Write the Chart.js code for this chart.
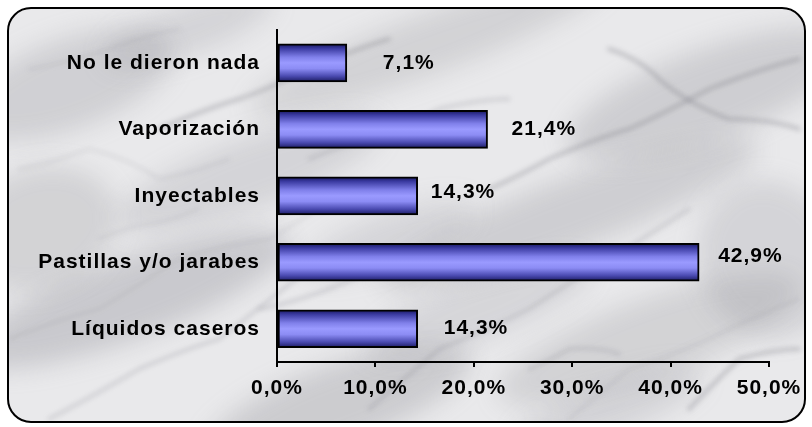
<!DOCTYPE html>
<html>
<head>
<meta charset="utf-8">
<script src="https://cdn.jsdelivr.net/npm/chart.js@4.4.1/dist/chart.umd.min.js"></script>
<style>
  html, body { margin: 0; padding: 0; background: #fff; }
  body { width: 812px; height: 427px; position: relative; overflow: hidden; }
  #marble {
    position: absolute; left: 7px; top: 7px; width: 795px; height: 412px;
    border: 2px solid #000; border-radius: 24px; overflow: hidden;
    background: #e9e9eb;
  }
  #marble canvas { position: absolute; left: 0; top: 0; }
  #chart { position: absolute; left: 0; top: 0; }
</style>
</head>
<body>
<div id="marble"><canvas id="stone" width="795" height="412"></canvas></div>
<canvas id="chart" width="812" height="427"></canvas>
<script>
const categories = ['No le dieron nada', 'Vaporización', 'Inyectables', 'Pastillas y/o jarabes', 'Líquidos caseros'];
const percentages = [7.1, 21.4, 14.3, 42.9, 14.3];
const axisMax = 50;
const axisStep = 10;

const FONT = { family: '"Liberation Sans", Arial, sans-serif', size: 21, weight: 'bold' };
const SPACING = '1px';
const BAR_THICK = 38;

// little hand-placed offsets for the value labels (dx from bar end, dy from bar centre)
const labelNudge = [[36, 0], [24, 0], [13, -4], [19, -6], [26, -1]];

const pct = v => v.toFixed(1).replace('.', ',') + '%';

// grey marble backdrop: soft clouds plus thin diagonal veins
(function paintStone() {
  const c = document.getElementById('stone').getContext('2d');
  const clouds = [
    [120, 290, 170, 40, 0.30], [560, 205, 200, 35, 0.26], [700, 85, 150, 45, 0.26],
    [330, 395, 140, 40, 0.28], [420, 35, 190, 30, 0.22], [60, 75, 110, 45, 0.24],
    [240, 165, 140, 35, 0.20], [640, 330, 160, 40, 0.22], [30, 220, 80, 60, 0.22],
    [760, 250, 70, 80, 0.20], [470, 300, 120, 30, 0.18], [180, 20, 90, 25, 0.2],
    [380, 230, 90, 25, 0.18], [600, 400, 100, 25, 0.2]
  ];
  c.filter = 'blur(12px)';
  clouds.forEach(([x, y, rx, ry, a]) => {
    c.fillStyle = `rgba(130,130,138,${a})`;
    c.beginPath();
    c.ellipse(x, y, rx, ry, -0.35, 0, Math.PI * 2);
    c.fill();
  });
  const veins = [
    [[0, 330], [90, 300], [170, 250], [260, 230], [340, 180]],
    [[40, 410], [130, 360], [210, 330], [300, 260]],
    [[150, 120], [230, 90], [300, 60], [380, 30]],
    [[10, 160], [80, 140], [150, 170], [220, 150]],
    [[360, 400], [430, 340], [520, 300], [600, 250], [680, 200]],
    [[480, 180], [540, 150], [620, 120], [700, 80], [790, 50]],
    [[560, 410], [620, 360], [700, 330], [790, 290]],
    [[250, 300], [320, 280], [400, 250], [470, 240]],
    [[600, 40], [650, 70], [720, 110], [790, 120]],
    [[20, 60], [100, 40], [170, 20]],
    [[300, 150], [360, 130], [430, 100], [500, 90]],
    [[680, 400], [730, 350], [790, 340]],
    [[90, 230], [140, 215], [190, 200]],
    [[520, 360], [560, 340], [610, 345]]
  ];
  c.filter = 'blur(2.5px)';
  c.lineCap = 'round';
  veins.forEach((pts, k) => {
    c.strokeStyle = `rgba(105,105,115,${0.18 + (k % 3) * 0.06})`;
    c.lineWidth = 2 + (k % 3);
    c.beginPath();
    c.moveTo(pts[0][0], pts[0][1]);
    for (let i = 1; i < pts.length; i++) {
      const mx = (pts[i - 1][0] + pts[i][0]) / 2 + ((i + k) % 2 ? 6 : -6);
      const my = (pts[i - 1][1] + pts[i][1]) / 2 + ((i + k) % 2 ? -5 : 5);
      c.quadraticCurveTo(mx, my, pts[i][0], pts[i][1]);
    }
    c.stroke();
  });
  c.filter = 'none';
})();

function barFill(ctx) {
  const chart = ctx.chart;
  const y = chart.scales.y;
  if (!y || ctx.dataIndex === undefined) return '#9999ff';
  const cy = y.getPixelForValue(ctx.dataIndex);
  if (!isFinite(cy)) return '#9999ff';
  const g = chart.ctx.createLinearGradient(0, cy - BAR_THICK / 2, 0, cy + BAR_THICK / 2);
  g.addColorStop(0, '#16165c');
  g.addColorStop(0.12, '#3a3aa0');
  g.addColorStop(0.35, '#8080ea');
  g.addColorStop(0.5, '#9a9aff');
  g.addColorStop(0.65, '#8c8cf4');
  g.addColorStop(0.85, '#4a4ab0');
  g.addColorStop(1, '#1a1a60');
  return g;
}

// canvas letter spacing gets reset whenever the canvas is resized
const spacingPlugin = {
  id: 'spacing',
  beforeUpdate(chart) { chart.ctx.letterSpacing = SPACING; },
  beforeDraw(chart) { chart.ctx.letterSpacing = SPACING; }
};

const valueLabels = {
  id: 'valueLabels',
  afterDatasetsDraw(chart) {
    const ctx = chart.ctx;
    const meta = chart.getDatasetMeta(0);
    ctx.save();
    ctx.letterSpacing = SPACING;
    ctx.font = `${FONT.weight} ${FONT.size}px ${FONT.family}`;
    ctx.fillStyle = '#000';
    ctx.textAlign = 'left';
    ctx.textBaseline = 'middle';
    meta.data.forEach((bar, i) => {
      const n = labelNudge[i] || [20, 0];
      ctx.fillText(pct(percentages[i]), bar.x + n[0], bar.y + n[1]);
    });
    ctx.restore();
  }
};

new Chart(document.getElementById('chart'), {
  type: 'bar',
  data: {
    labels: categories,
    datasets: [{
      data: percentages,
      backgroundColor: barFill,
      borderColor: '#000',
      borderWidth: 2,
      borderSkipped: false,
      barThickness: BAR_THICK
    }]
  },
  options: {
    indexAxis: 'y',
    responsive: false,
    animation: false,
    layout: { padding: { top: 25, right: 43, left: 0, bottom: 0 } },
    plugins: { legend: { display: false }, tooltip: { enabled: false } },
    scales: {
      x: {
        min: 0,
        max: axisMax,
        ticks: {
          stepSize: axisStep,
          color: '#000',
          font: FONT,
          padding: 9,
          maxRotation: 0,
          callback: v => pct(v)
        },
        grid: { drawOnChartArea: false, drawTicks: true, tickLength: 5, color: '#000', lineWidth: 2 },
        border: { display: true, color: '#000', width: 2 },
        afterFit: s => { s.height = 65; }
      },
      y: {
        ticks: { color: '#000', font: FONT, padding: 17 },
        grid: { display: false, drawTicks: false },
        border: { display: true, color: '#000', width: 2 },
        afterFit: s => { s.width = 277; }
      }
    }
  },
  plugins: [spacingPlugin, valueLabels]
});
</script>
</body>
</html>
